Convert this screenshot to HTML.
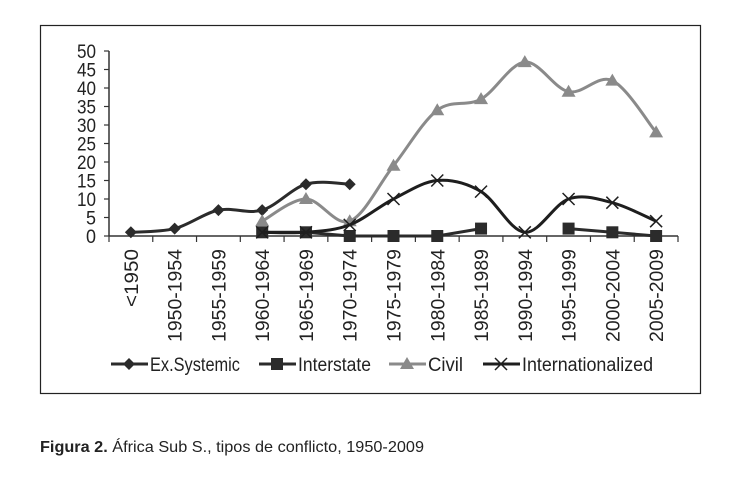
<!DOCTYPE html>
<html><head><meta charset="utf-8"><style>
body{margin:0;background:#fff;width:754px;height:473px;overflow:hidden;font-family:"Liberation Sans",sans-serif}
</style></head><body>
<svg width="754" height="473" xmlns="http://www.w3.org/2000/svg">
<rect x="40.5" y="25.5" width="660" height="368" fill="none" stroke="#222" stroke-width="1.2"/>
<g id="axes"></g>
<g id="series"></g>
<g id="legend" font-size="19" fill="#222"></g>
<text x="40" y="452" font-size="16" fill="#222" textLength="384" lengthAdjust="spacingAndGlyphs"><tspan font-weight="bold">Figura 2.</tspan> África Sub S., tipos de conflicto, 1950-2009</text>
</svg>
<script>
const categories=["<1950","1950-1954","1955-1959","1960-1964","1965-1969","1970-1974","1975-1979","1980-1984","1985-1989","1990-1994","1995-1999","2000-2004","2005-2009"];
const exSystemic=[1,2,7,7,14,14,null,null,null,null,null,null,null];
const interstate=[null,null,null,1,1,0,0,0,2,null,2,1,0];
const civil=[null,null,null,4,10,4,19,34,37,47,39,42,28];
const internationalized=[null,null,null,1,1,3,10,15,12,1,10,9,4];
const yTicks=[0,5,10,15,20,25,30,35,40,45,50];
const NS="http://www.w3.org/2000/svg";
const x0=109,x1=678,y0=236,yTop=51,yMax=50;
const step=(x1-x0)/categories.length;
const X=i=>x0+step*(i+0.5);
const Y=v=>y0-(v/yMax)*(y0-yTop);
function mk(tag,attrs,parent){const e=document.createElementNS(NS,tag);for(const k in attrs)e.setAttribute(k,attrs[k]);parent.appendChild(e);return e;}
const axes=document.getElementById('axes');
let l=mk('line',{x1:x0,y1:yTop,x2:x0,y2:y0,stroke:'#333','stroke-width':1.5},axes);


l=mk('line',{x1:x0,y1:y0,x2:x1,y2:y0,stroke:'#333','stroke-width':1.5},axes);


yTicks.forEach(v=>{
 mk('line',{x1:x0-5,y1:Y(v),x2:x0,y2:Y(v),stroke:'#333','stroke-width':1.2},axes);
 const t=mk('text',{x:x0-13,y:Y(v)+7,'text-anchor':'end','font-size':19,fill:'#222',textLength:(String(v).length>1?19:10),lengthAdjust:'spacingAndGlyphs'},axes);
 t.textContent=v;
 
 
});
for(let i=0;i<=categories.length;i++){mk('line',{x1:x0+step*i,y1:y0,x2:x0+step*i,y2:y0+6,stroke:'#333','stroke-width':1.2},axes);}
categories.forEach((c,i)=>{
 const t=mk('text',{x:0,y:0,'text-anchor':'end','font-size':19,fill:'#222',textLength:(c.length>5?93:58),lengthAdjust:'spacingAndGlyphs',transform:`translate(${X(i)+7},${y0+13}) rotate(-90)`},axes);
 t.textContent=c;
 
 
});
function segs(vals){const out=[];let cur=[];vals.forEach((v,i)=>{if(v==null){if(cur.length)out.push(cur);cur=[];}else cur.push([X(i),Y(v)]);});if(cur.length)out.push(cur);return out;}
function smooth(p){if(p.length<2)return '';let d=`M${p[0][0]},${p[0][1]}`;for(let i=0;i<p.length-1;i++){const a=p[i-1]||p[i],b=p[i],c=p[i+1],e=p[i+2]||c;const c1=[b[0]+(c[0]-a[0])/6,b[1]+(c[1]-a[1])/6],c2=[c[0]-(e[0]-b[0])/6,c[1]-(e[1]-b[1])/6];d+=` C${c1[0]},${c1[1]} ${c2[0]},${c2[1]} ${c[0]},${c[1]}`;}return d;}
function marker(type,x,y,col,g){
 if(type==='diamond')return mk('path',{d:`M${x},${y-6}L${x+6},${y}L${x},${y+6}L${x-6},${y}Z`,fill:col},g);
 if(type==='square')return mk('rect',{x:x-6,y:y-6,width:12,height:12,fill:col},g);
 if(type==='triangle')return mk('path',{d:`M${x},${y-7}L${x+7},${y+5}L${x-7},${y+5}Z`,fill:col},g);
 return mk('path',{d:`M${x-6},${y-6}L${x+6},${y+6}M${x+6},${y-6}L${x-6},${y+6}`,stroke:col,'stroke-width':1.5,fill:'none'},g);
}
const series=[
 {name:'exsystemic',vals:exSystemic,col:'#2b2b2b',m:'diamond',smooth:true},
 {name:'interstate',vals:interstate,col:'#2b2b2b',m:'square',smooth:false},
 {name:'civil',vals:civil,col:'#8a8a8a',m:'triangle',smooth:true},
 {name:'internationalized',vals:internationalized,col:'#1e1e1e',m:'x',smooth:true}];
const sg=document.getElementById('series');
series.forEach(s=>{
 segs(s.vals).forEach(p=>{
  const d=s.smooth?smooth(p):'M'+p.map(q=>q.join(',')).join(' L');
  const path=mk('path',{d:d,fill:'none',stroke:s.col,'stroke-width':3},sg);
  
  
 });
 s.vals.forEach((v,i)=>{if(v==null)return;
  const m=marker(s.m,X(i),Y(v),s.col,sg);
  
  
 });
});
const lg=document.getElementById('legend');
const legendItems=[['Ex.Systemic',111,90],['Interstate',259,73],['Civil',389,35],['Internationalized',483,131]];
legendItems.forEach((it,k)=>{
 const s=series[k],ly=364;
 const ln=mk('line',{x1:it[1],y1:ly,x2:it[1]+37,y2:ly,stroke:s.col,'stroke-width':3},lg);
 
 
 marker(s.m,it[1]+18,ly,s.col,lg);
 const t=mk('text',{x:it[1]+39,y:ly+7,textLength:it[2],lengthAdjust:'spacingAndGlyphs'},lg);
 t.textContent=it[0];
 
 
});
</script>
</body></html>
